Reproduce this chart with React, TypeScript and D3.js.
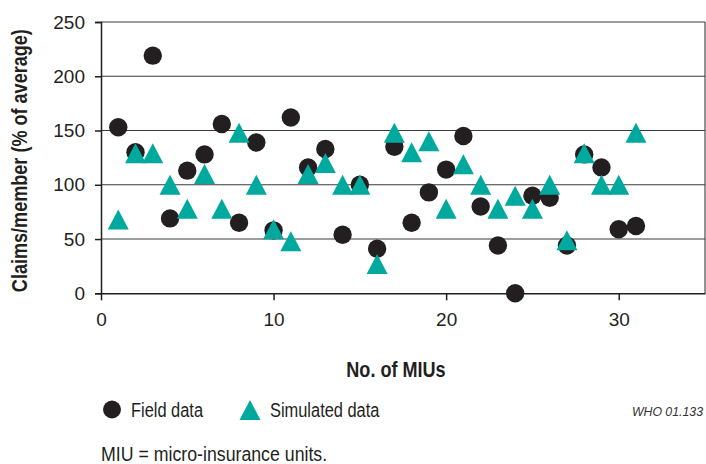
import React, { useEffect, useRef } from 'react';
import * as d3 from 'd3';

/* ── Data ─────────────────────────────────────────────────────────── */
const MIU_INDEX = [
  1, 2, 3, 4, 5, 6, 7, 8, 9, 10, 11, 12, 13, 14, 15, 16,
  17, 18, 19, 20, 21, 22, 23, 24, 25, 26, 27, 28, 29, 30, 31,
];
const FIELD_DATA = [
  153, 130, 219, 69, 113, 128, 156, 65, 139, 58, 162, 116, 133, 54, 100, 41,
  135, 65, 93, 114, 145, 80, 44, 0, 90, 88, 44, 128, 116, 59, 62,
];
const SIMULATED_DATA = [
  68, 129, 129, 100, 78, 110, 78, 148, 100, 59, 48, 110, 120, 100, 100, 27,
  148, 130, 140, 78, 119, 100, 78, 90, 78, 100, 49, 129, 100, 100, 148,
];
const X_TICKS = [0, 10, 20, 30];
const Y_TICKS = [0, 50, 100, 150, 200, 250];

const COLORS = {
  field: '#231f20',
  simulated: '#00a99d',
  grid: '#3a3a3a',
  text: '#231f20',
};

const FONT = '"Liberation Sans", Arial, sans-serif';

const W = 706;
const H = 464;

export default function App() {
  const svgRef = useRef<SVGSVGElement>(null);

  useEffect(() => {
    if (!svgRef.current) return;
    const svg = d3.select(svgRef.current);
    svg.selectAll('*').remove();

    const x = d3.scaleLinear().domain([0, 35]).range([101, 705]);
    const y = d3.scaleLinear().domain([0, 250]).range([293.3, 22]);

    const g = svg.append('g');

    // squeeze a text horizontally to mimic the condensed face of the original
    const narrow = (sel: d3.Selection<SVGTextElement, unknown, null, undefined>, k = 0.82) => {
      const node = sel.node();
      if (!node) return sel;
      const len = node.getComputedTextLength();
      return sel.attr('textLength', len * k).attr('lengthAdjust', 'spacingAndGlyphs');
    };

    // Gridlines (incl. top border at 250)
    g.selectAll('.grid')
      .data(Y_TICKS.filter(t => t > 0))
      .enter()
      .append('line')
      .attr('x1', x(0))
      .attr('x2', x(35))
      .attr('y1', d => y(d))
      .attr('y2', d => y(d))
      .attr('stroke', COLORS.grid)
      .attr('stroke-width', 1.1);

    // Right border
    g.append('line')
      .attr('x1', x(35)).attr('x2', x(35))
      .attr('y1', y(250)).attr('y2', y(0))
      .attr('stroke', COLORS.grid)
      .attr('stroke-width', 1.1);

    // Y axis
    const yAxis = d3.axisLeft(y).tickValues(Y_TICKS).tickSize(6).tickPadding(10);
    const ya = g.append('g').attr('transform', `translate(${x(0)},0)`).call(yAxis);
    ya.select('.domain').attr('stroke', COLORS.text).attr('stroke-width', 1.5);
    ya.selectAll('.tick line').attr('stroke', COLORS.text).attr('stroke-width', 1.5);
    ya.selectAll('.tick text')
      .attr('font-family', FONT)
      .attr('font-size', 19)
      .attr('fill', COLORS.text);

    // X axis
    const xAxis = d3.axisBottom(x).tickValues(X_TICKS).tickSize(7).tickSizeOuter(0).tickPadding(12);
    const xa = g.append('g').attr('transform', `translate(0,${y(0)})`).call(xAxis);
    xa.select('.domain').attr('stroke', COLORS.text).attr('stroke-width', 1.5);
    xa.selectAll('.tick line').attr('stroke', COLORS.text).attr('stroke-width', 1.5);
    xa.selectAll('.tick text')
      .attr('font-family', FONT)
      .attr('font-size', 19)
      .attr('fill', COLORS.text);

    // Field data — circles
    g.append('g')
      .selectAll('circle')
      .data(MIU_INDEX.map((m, i) => ({ m, v: FIELD_DATA[i] })))
      .enter()
      .append('circle')
      .attr('cx', d => x(d.m))
      .attr('cy', d => y(d.v))
      .attr('r', 9.2)
      .attr('fill', COLORS.field);

    // Simulated data — triangles (drawn on top)
    const tri = (cx: number, cy: number, s = 1) =>
      `M${cx},${cy - 10 * s}L${cx + 10.5 * s},${cy + 10 * s}L${cx - 10.5 * s},${cy + 10 * s}Z`;

    g.append('g')
      .selectAll('path')
      .data(MIU_INDEX.map((m, i) => ({ m, v: SIMULATED_DATA[i] })))
      .enter()
      .append('path')
      .attr('d', d => tri(x(d.m), y(d.v)))
      .attr('fill', COLORS.simulated);

    // Axis titles
    narrow(
      g.append('text')
        .attr('transform', `translate(27,${(y(0) + y(250)) / 2 + 3}) rotate(-90)`)
        .attr('text-anchor', 'middle')
        .attr('font-family', FONT)
        .attr('font-weight', 'bold')
        .attr('font-size', 21.5)
        .attr('fill', COLORS.text)
        .text('Claims/member (% of average)'),
      0.84,
    );

    narrow(
      g.append('text')
        .attr('x', 396)
        .attr('y', 377)
        .attr('text-anchor', 'middle')
        .attr('font-family', FONT)
        .attr('font-weight', 'bold')
        .attr('font-size', 21.5)
        .attr('fill', COLORS.text)
        .text('No. of MIUs'),
      0.84,
    );

    // Legend
    const lg = g.append('g');
    lg.append('circle').attr('cx', 112).attr('cy', 409.5).attr('r', 9).attr('fill', COLORS.field);
    narrow(
      lg.append('text')
        .attr('x', 131).attr('y', 416.5)
        .attr('font-family', FONT).attr('font-size', 20).attr('fill', COLORS.text)
        .text('Field data'),
    );
    lg.append('path').attr('d', tri(250, 410)).attr('fill', COLORS.simulated);
    narrow(
      lg.append('text')
        .attr('x', 270).attr('y', 416.5)
        .attr('font-family', FONT).attr('font-size', 20).attr('fill', COLORS.text)
        .text('Simulated data'),
    );

    // Figure code
    g.append('text')
      .attr('x', 703).attr('y', 416)
      .attr('text-anchor', 'end')
      .attr('font-family', FONT)
      .attr('font-style', 'italic')
      .attr('font-size', 12.3)
      .attr('fill', '#333')
      .text('WHO 01.133');

    // Footnote
    narrow(
      g.append('text')
        .attr('x', 101).attr('y', 461)
        .attr('font-family', FONT).attr('font-size', 20.5)
        .attr('fill', COLORS.text)
        .text('MIU = micro-insurance units.'),
      0.865,
    );
  }, []);

  return (
    <div style={{ position: 'absolute', left: 0, top: 0, width: W, height: H, background: '#fff' }}>
      <svg ref={svgRef} width={W} height={H} style={{ display: 'block' }} />
    </div>
  );
}
